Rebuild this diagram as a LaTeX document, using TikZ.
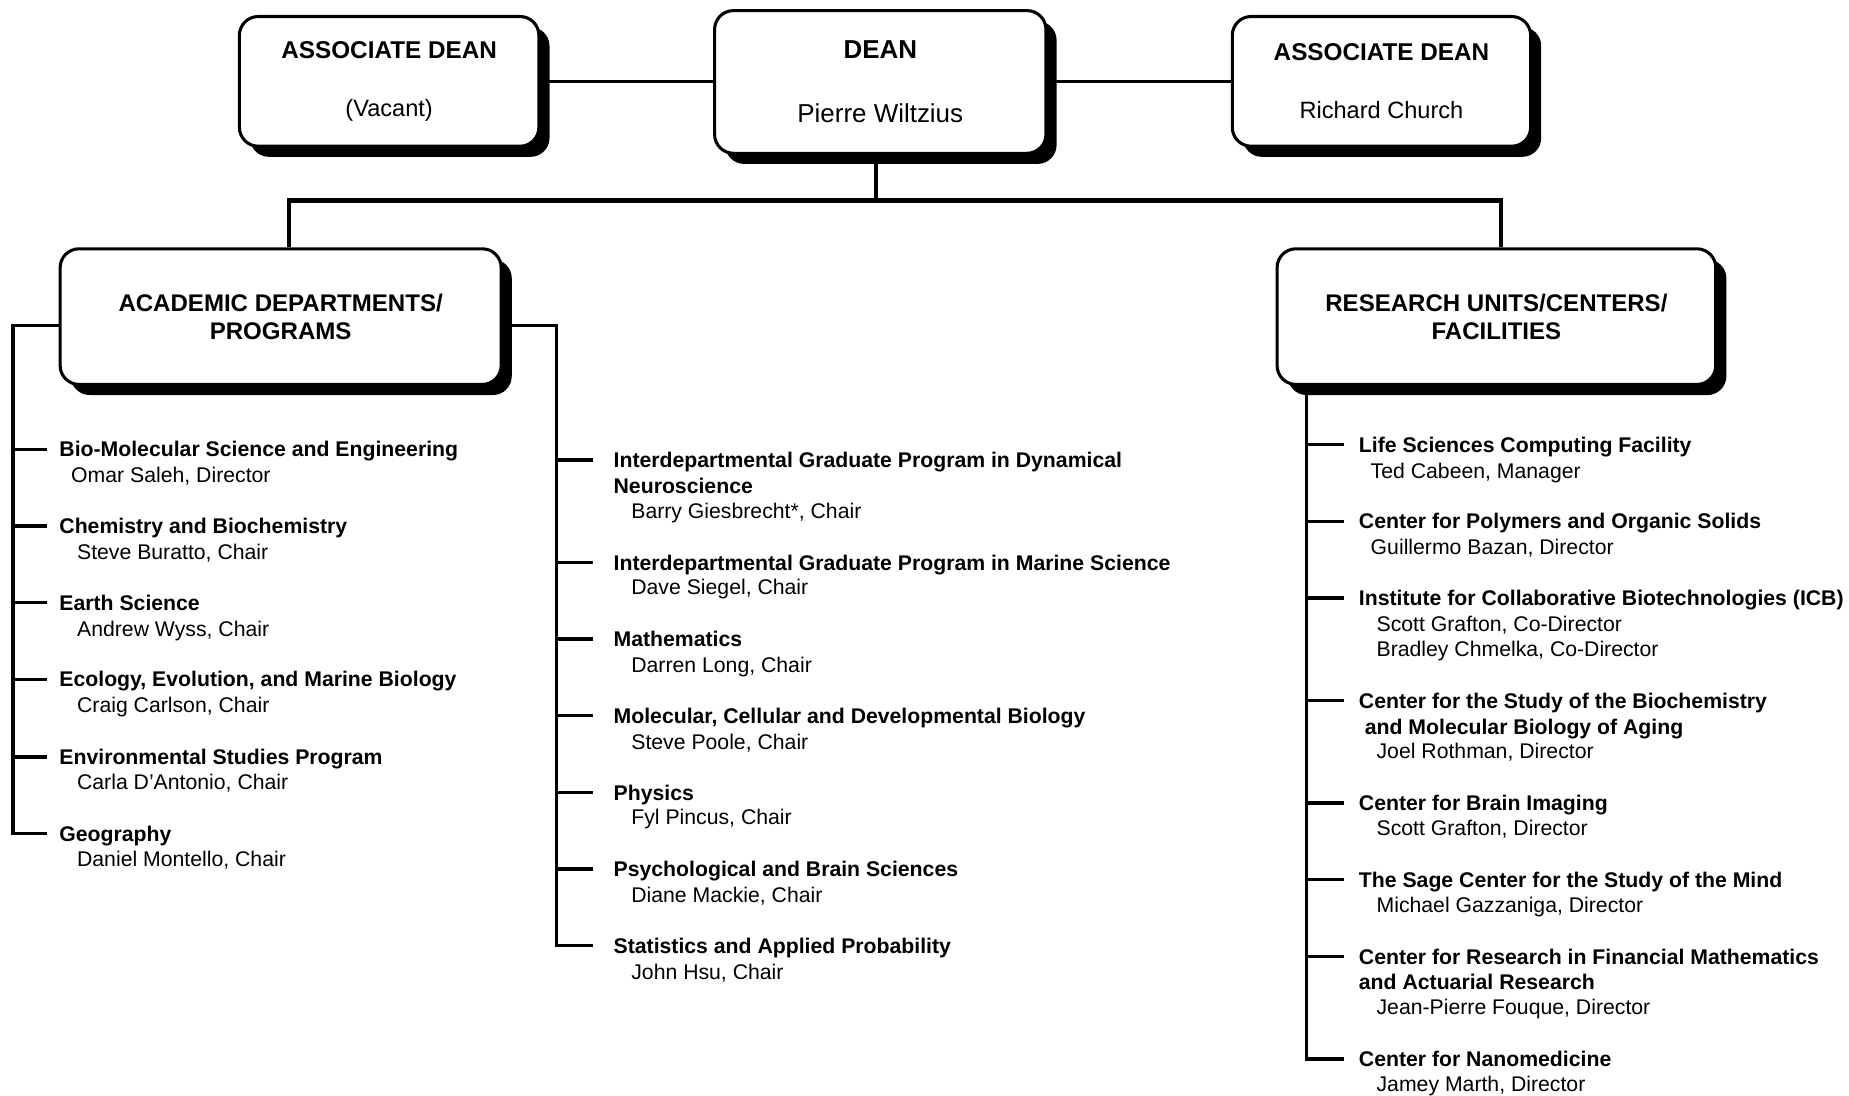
\documentclass[tikz,border=0pt]{standalone}
\usepackage{fontspec}
\setmainfont{Liberation Sans}
\usetikzlibrary{shadows}
\begin{document}
\begin{tikzpicture}[x=0.5pt,y=-0.5pt,
  box/.style={draw=black, line width=1.3pt, fill=white, rounded corners=8pt, align=center,
    drop shadow={shadow xshift=4.5pt, shadow yshift=-4.5pt, fill=black, opacity=1}},
  tt/.style={anchor=west, inner sep=0pt, font=\bfseries\fontsize{9}{11}\selectfont, text height=6.5pt, text depth=0pt},
  nm/.style={anchor=west, inner sep=0pt, font=\fontsize{9}{11}\selectfont, text height=6.5pt, text depth=0pt},
  thinline/.style={line width=1.2pt},
  trunk/.style={line width=1.8pt},
  bracket/.style={line width=1.4pt}]

\useasboundingbox (0,0) rectangle (1568,929);

% ---- top boxes
\node[box, minimum width=127pt, minimum height=55pt, font=\fontsize{10}{24.5}\selectfont] (assocL) at (330,69)
  {{\fontsize{10.3}{24.5}\selectfont\bfseries ASSOCIATE DEAN}\\(Vacant)};
\node[box, minimum width=140.5pt, minimum height=60.5pt, font=\fontsize{11}{27}\selectfont] (dean) at (746.5,69.5)
  {{\bfseries DEAN}\\Pierre Wiltzius};
\node[box, minimum width=126.5pt, minimum height=55pt, font=\fontsize{10}{24.5}\selectfont] (assocR) at (1171.5,69)
  {{\fontsize{10.3}{24.5}\selectfont\bfseries ASSOCIATE DEAN}\\Richard Church};

% ---- second level boxes
\node[box, minimum width=187pt, minimum height=57.5pt, font=\bfseries\fontsize{10.2}{12}\selectfont] (acad) at (238,268.5)
  {ACADEMIC DEPARTMENTS/\\PROGRAMS};
\node[box, minimum width=186pt, minimum height=57.5pt, font=\bfseries\fontsize{10.2}{12}\selectfont] (res) at (1269,268.5)
  {RESEARCH UNITS/CENTERS/\\FACILITIES};

% ---- top connectors
\draw[thinline] (assocL.east) -- (assocL.east -| dean.west);
\draw[thinline] (dean.east |- assocR.west) -- (assocR.west);

\coordinate (bus) at (743,170);
\coordinate (busL) at (245,170);
\coordinate (busR) at (1273,170);
\draw[trunk] (dean.south -| bus) -- (bus);
\draw[trunk, line join=miter] (acad.north -| busL) -- (busL) -- (busR) -- (res.north -| busR);

% ---- left column
\node[tt] (b1) at (50,381) {Bio-Molecular Science and Engineering};
\node[nm] (b1n) at (60,403) {Omar Saleh, Director};
\node[tt] (b2) at (50,446) {Chemistry and Biochemistry};
\node[nm] (b2n) at (65,468) {Steve Buratto, Chair};
\node[tt] (b3) at (50,511) {Earth Science};
\node[nm] (b3n) at (65,533) {Andrew Wyss, Chair};
\node[tt] (b4) at (50,576) {Ecology, Evolution, and Marine Biology};
\node[nm] (b4n) at (65,598) {Craig Carlson, Chair};
\node[tt] (b5) at (50,642) {Environmental Studies Program};
\node[nm] (b5n) at (65,663) {Carla D’Antonio, Chair};
\node[tt] (b6) at (50,707) {Geography};
\node[nm] (b6n) at (65,728) {Daniel Montello, Chair};

\coordinate (aL) at (11,276);
\draw[bracket] (acad.west |- aL) -- (aL) |- ([xshift=-5pt]b6.west);
\foreach \n in {b1,b2,b3,b4,b5}
  \draw[bracket] ([xshift=-5pt]\n.west) -- (\n.west -| aL);

% ---- middle column
\node[tt] (m1) at (520,390) {Interdepartmental Graduate Program in Dynamical};
\node[tt] (m1b) at (520,412) {Neuroscience};
\node[nm] (m1n) at (535,433) {Barry Giesbrecht*, Chair};
\node[tt] (m2) at (520,477) {Interdepartmental Graduate Program in Marine Science};
\node[nm] (m2n) at (535,498) {Dave Siegel, Chair};
\node[tt] (m3) at (520,542) {Mathematics};
\node[nm] (m3n) at (535,564) {Darren Long, Chair};
\node[tt] (m4) at (520,607) {Molecular, Cellular and Developmental Biology};
\node[nm] (m4n) at (535,629) {Steve Poole, Chair};
\node[tt] (m5) at (520,672) {Physics};
\node[nm] (m5n) at (535,693) {Fyl Pincus, Chair};
\node[tt] (m6) at (520,737) {Psychological and Brain Sciences};
\node[nm] (m6n) at (535,759) {Diane Mackie, Chair};
\node[tt] (m7) at (520,802) {Statistics and Applied Probability};
\node[nm] (m7n) at (535,824) {John Hsu, Chair};

\coordinate (aR) at (472,276);
\draw[bracket] (acad.east |- aR) -- (aR) |- ([xshift=-8.5pt]m7.west);
\foreach \n in {m1,m2,m3,m4,m5,m6}
  \draw[bracket] ([xshift=-8.5pt]\n.west) -- (\n.west -| aR);

% ---- right column
\node[tt] (r1) at (1152,377) {Life Sciences Computing Facility};
\node[nm] (r1n) at (1162,399) {Ted Cabeen, Manager};
\node[tt] (r2) at (1152,442) {Center for Polymers and Organic Solids};
\node[nm] (r2n) at (1162,464) {Guillermo Bazan, Director};
\node[tt] (r3) at (1152,507) {Institute for Collaborative Biotechnologies (ICB)};
\node[nm] (r3n) at (1167,529) {Scott Grafton, Co-Director};
\node[nm] (r3m) at (1167,550) {Bradley Chmelka, Co-Director};
\node[tt] (r4) at (1152,594) {Center for the Study of the Biochemistry};
\node[tt] (r4b) at (1157,616) {and Molecular Biology of Aging};
\node[nm] (r4n) at (1167,637) {Joel Rothman, Director};
\node[tt] (r5) at (1152,681) {Center for Brain Imaging};
\node[nm] (r5n) at (1167,702) {Scott Grafton, Director};
\node[tt] (r6) at (1152,746) {The Sage Center for the Study of the Mind};
\node[nm] (r6n) at (1167,767) {Michael Gazzaniga, Director};
\node[tt] (r7) at (1152,811) {Center for Research in Financial Mathematics};
\node[tt] (r7b) at (1152,833) {and Actuarial Research};
\node[nm] (r7n) at (1167,854) {Jean-Pierre Fouque, Director};
\node[tt] (r8) at (1152,898) {Center for Nanomedicine};
\node[nm] (r8n) at (1167,919) {Jamey Marth, Director};

\coordinate (rB) at (1108,326);
\draw[bracket] (res.south -| rB) |- ([xshift=-6pt]r8.west);
\foreach \n in {r1,r2,r3,r4,r5,r6,r7}
  \draw[bracket] ([xshift=-6pt]\n.west) -- (\n.west -| rB);

\end{tikzpicture}
\end{document}
